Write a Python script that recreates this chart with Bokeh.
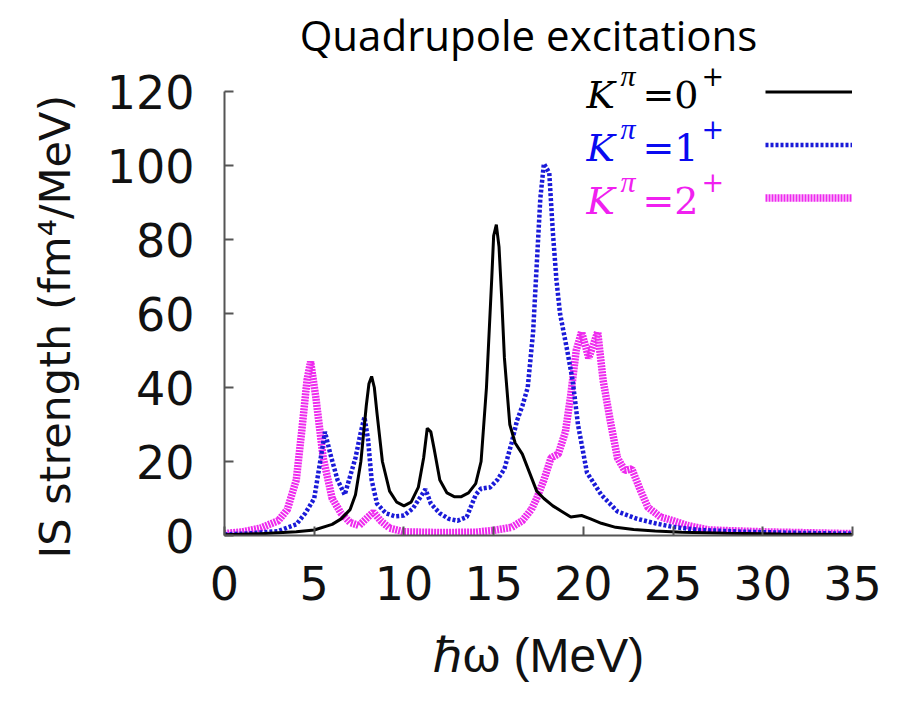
from bokeh.plotting import figure
from bokeh.models import (Range1d, FixedTicker, Label, Legend, LegendItem, Title)
from bokeh.embed import file_html
from bokeh.resources import INLINE

# ---------------- data ----------------
x_k0 = [0, 2, 4, 5, 6, 6.5, 7, 7.3, 7.6, 7.9, 8.05, 8.2, 8.35, 8.5, 8.8, 9.2, 9.6, 10.0, 10.4,
        10.8, 11.1, 11.3, 11.5, 11.7, 12.0, 12.4, 12.8, 13.2, 13.6, 14.0, 14.3, 14.6, 14.9,
        15.0, 15.15, 15.3, 15.45, 15.6, 15.9, 16.2, 16.6, 17.0, 17.4, 17.8, 18.3, 18.8, 19.3,
        19.9, 20.4, 21.0, 21.8, 22.8, 24.0, 25.5, 28, 31, 35]
y_k0 = [0.2, 0.5, 1.0, 1.5, 3, 4.5, 7, 11, 20, 35, 41, 43, 40, 33, 20, 12, 9, 8, 9,
        13, 21, 29, 28, 23, 15, 11.5, 10.5, 10.5, 11.5, 14, 20, 40, 70,
        81, 84, 78, 64, 48, 30, 25, 22, 17, 12, 10, 8, 6.5, 5,
        5.4, 4.5, 3.3, 2.2, 1.6, 1.2, 0.9, 0.6, 0.4, 0.3]

x_k1 = [0, 1.5, 3, 4, 4.5, 5.0, 5.3, 5.6, 5.9, 6.3, 6.7, 7.0, 7.3, 7.6, 7.8, 8.0, 8.2, 8.5,
        9.0, 9.5, 10.0, 10.5, 11.0, 11.2, 11.5, 12.0, 12.5, 13.0, 13.5, 14.0, 14.3, 14.8,
        15.2, 15.6, 16.0, 16.3, 16.6, 16.9, 17.2, 17.4, 17.6, 17.8, 18.1, 18.3, 18.5, 18.7,
        19.1, 19.4, 19.7, 20.2, 21.0, 21.9, 23.0, 24.0, 25.0, 26.5, 29, 32, 35]
y_k1 = [0.3, 0.6, 1.2, 3, 6, 10, 19, 28, 22, 15, 11, 16, 21, 28, 32, 26, 15, 8.6,
        6, 5.2, 5.4, 7.3, 11, 12.5, 8.6, 6, 4.5, 4, 5, 11, 12.7, 13,
        15, 18, 25, 31, 35, 40, 55, 73, 91, 100.5, 98, 82, 69, 60,
        50, 42, 30, 17, 11, 6.5, 4.5, 3.3, 2.3, 1.5, 1.0, 0.7, 0.5]

x_k2 = [0, 1, 2, 3, 3.5, 4.0, 4.3, 4.6, 4.8, 5.1, 5.5, 6.0, 6.5, 7.0, 7.5, 8.0, 8.3, 8.7,
        9.2, 10, 12, 14, 15, 16, 16.6, 17.1, 17.4, 17.8, 18.2, 18.6, 19.0, 19.3, 19.6,
        19.9, 20.3, 20.8, 21.1, 21.5, 21.9, 22.3, 22.7, 23.2, 23.6, 24.3, 25.0, 25.8,
        27, 30, 35]
y_k2 = [0.5, 1, 2, 4, 7, 15, 28, 42, 47, 37, 21, 10, 6, 3.5, 2.7, 5, 6.3, 4,
        2, 1, 0.8, 0.9, 1.4, 2.2, 4, 7, 10, 15, 21, 22, 28, 38, 50,
        55, 48, 55, 42, 31, 21, 17.6, 18, 12, 7.6, 5, 4, 2.7,
        1.5, 1, 0.5]

x_ticks = [0, 5, 10, 15, 20, 25, 30, 35]
y_ticks = [0, 20, 40, 60, 80, 100, 120]

title_text = "Quadrupole excitations"
x_label = "ℏω (MeV)"
y_label = "IS strength (fm⁴/MeV)"
series_digits = ["0", "1", "2"]

# ---------------- layout ----------------
W, H = 904, 707
FL, FR, FB = 224, 852, 535      # frame left / right / bottom (pixels)
AXIS_TOP = 91                    # pixel row of y = 120; the frame runs up to the top edge
X_MIN, X_MAX = 0, 35
Y_MIN, Y_MAX = 0, 120
y_top = Y_MAX * FB / (FB - AXIS_TOP)   # data value at the canvas top edge

p = figure(width=W, height=H, output_backend="svg", toolbar_location=None,
           x_range=Range1d(X_MIN, X_MAX), y_range=Range1d(Y_MIN, y_top),
           min_border_left=FL, min_border_right=W - FR,
           min_border_top=0, min_border_bottom=H - FB)
p.title = None
p.outline_line_color = None
p.xgrid.visible = False
p.ygrid.visible = False
p.background_fill_color = "white"
p.border_fill_color = "white"

AX_COL = "#555555"
for ax in (p.xaxis[0], p.yaxis[0]):
    ax.axis_line_color = AX_COL
    ax.axis_line_width = 2
    ax.major_tick_line_color = AX_COL
    ax.major_tick_line_width = 2
    ax.major_tick_in = 9
    ax.major_tick_out = 0
    ax.minor_tick_line_color = None
    ax.major_label_text_font = "DejaVu Sans"
    ax.major_label_text_font_size = "46px"
    ax.major_label_text_color = "#111111"

p.xaxis[0].ticker = FixedTicker(ticks=x_ticks)
p.yaxis[0].ticker = FixedTicker(ticks=y_ticks)
p.yaxis[0].bounds = (Y_MIN, Y_MAX)
p.xaxis[0].major_label_standoff = 30
p.yaxis[0].major_label_standoff = 30
p.xaxis[0].axis_label = x_label
p.xaxis[0].axis_label_text_font = "Liberation Sans"
p.xaxis[0].axis_label_text_font_style = "normal"
p.xaxis[0].axis_label_text_color = "#111111"
p.xaxis[0].axis_label_text_font_size = "48px"
p.xaxis[0].axis_label_standoff = 26

# y-axis title as a side title (centred lower than the frame centre, as in the reference)
p.add_layout(Title(text=y_label, align="left", offset=-(558 - FB), standoff=48,
                   text_font="DejaVu Sans", text_font_style="normal",
                   text_font_size="43px", text_color="#111111"), "left")

MAG = "#ee2aee"
BLU = "#1a1ad8"

r2 = p.line(x_k2, y_k2, line_color=MAG, line_width=7.5, line_dash="2 1")
r1 = p.line(x_k1, y_k1, line_color=BLU, line_width=4.5, line_dash="3 2")
r0 = p.line(x_k0, y_k0, line_color="black", line_width=3)

# legend (line samples only; the text is drawn with labels)
row_h = 53
legend = Legend(items=[LegendItem(label=" ", renderers=[r0]),
                       LegendItem(label=" ", renderers=[r1]),
                       LegendItem(label=" ", renderers=[r2])],
                location=(765 - FL, FB - (91 - row_h / 2 + 3 * row_h)),
                glyph_width=135, glyph_height=row_h, label_width=0, label_height=row_h,
                label_standoff=0, label_text_font_size="1px", padding=0, margin=0,
                spacing=0, border_line_alpha=0, background_fill_alpha=0)
p.add_layout(legend, "center")

def scr(px, py):
    # screen units relative to the frame's bottom-left corner
    return dict(x=px - FL, y=FB - py, x_units="screen", y_units="screen")

leg_cols = ["black", "#0a0af0", "#f020f0"]
leg_base = [94, 147, 200]
for digit, col, base in zip(series_digits, leg_cols, leg_base):
    p.add_layout(Label(**scr(586, base), text="K", text_font="DejaVu Serif",
                       text_font_style="italic", text_font_size="38px", text_color=col,
                       text_baseline="alphabetic"))
    p.add_layout(Label(**scr(642, base), text="=" + digit, text_font="DejaVu Serif",
                       text_font_size="38px", text_color=col, text_baseline="alphabetic"))
    p.add_layout(Label(**scr(620, base - 19), text="π", text_font="Liberation Serif",
                       text_font_style="italic", text_font_size="30px", text_color=col,
                       text_baseline="alphabetic"))
    p.add_layout(Label(**scr(701, base - 19), text="+", text_font="DejaVu Serif",
                       text_font_size="27px", text_color=col, text_baseline="alphabetic"))

p.add_layout(Label(**scr(528, 34), text=title_text, text_font="Open Sans",
                   text_font_size="42px", text_color="black", text_align="center",
                   text_baseline="alphabetic"))

open("out.html", "w").write(file_html(p, INLINE))
